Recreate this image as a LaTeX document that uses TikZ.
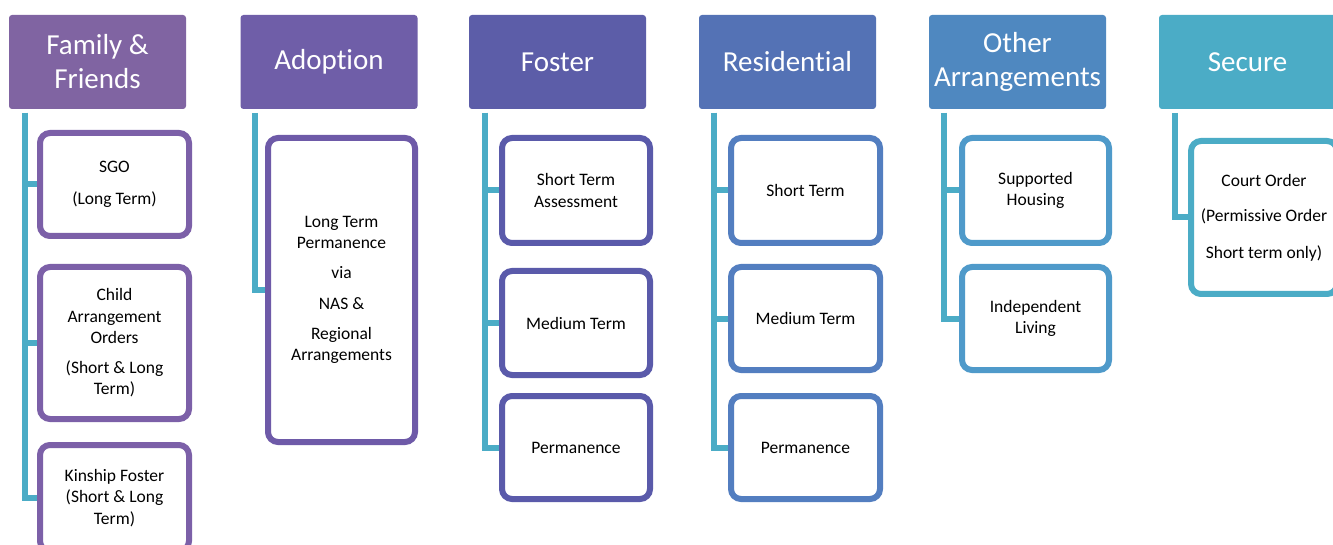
\documentclass[tikz,border=0pt]{standalone}
\usepackage{fontspec}
\setmainfont{Carlito}[Ligatures=NoCommon]
\usetikzlibrary{backgrounds}
\definecolor{hA}{HTML}{8064A2}
\definecolor{hB}{HTML}{6F5EA8}
\definecolor{hC}{HTML}{5C5DA8}
\definecolor{hD}{HTML}{5472B5}
\definecolor{hE}{HTML}{4F88C0}
\definecolor{hF}{HTML}{4BACC6}
\definecolor{kA}{HTML}{7C60A8}
\definecolor{kB}{HTML}{6E5AA8}
\definecolor{kC}{HTML}{5A5AAA}
\definecolor{kD}{HTML}{537EC0}
\definecolor{kE}{HTML}{4F9ACA}
\definecolor{kF}{HTML}{4BACC6}
\definecolor{cline}{HTML}{4BACC6}
\begin{document}
\begin{tikzpicture}[x=1pt,y=-1pt,
  hdr/.style={rectangle, rounded corners=3pt, text=white,
    font=\fontsize{29}{34}\selectfont, align=center, inner sep=0pt,
    minimum width=177pt, minimum height=94pt},
  kid/.style={rectangle, rounded corners=10pt, line width=6pt, fill=white,
    font=\fontsize{17.5}{21.5}\selectfont, align=center, inner sep=0pt},
  conn/.style={draw=cline, line width=6pt}]
\useasboundingbox (0,0) rectangle (1333,545);
% headers
\node[hdr, fill=hA] (h1) at (97.5,62) {Family \&\\Friends};
\node[hdr, fill=hB] (h2) at (329,62) {Adoption};
\node[hdr, fill=hC] (h3) at (557.5,62) {Foster};
\node[hdr, fill=hD] (h4) at (787.5,62) {Residential};
\node[hdr, fill=hE] (h5) at (1017.5,62) {Other\\Arrangements};
\node[hdr, fill=hF] (h6) at (1247.5,62) {Secure};
% family & friends
\node[kid, draw=kA, minimum width=149pt, minimum height=103pt] (a1) at (114.5,184.5) {SGO\\[10pt](Long Term)};
\node[kid, draw=kA, minimum width=149pt, minimum height=152pt] (a2) at (114.5,343) {Child\\Arrangement\\Orders\\[8pt](Short \& Long\\Term)};
\node[kid, draw=kA, minimum width=149pt, minimum height=106pt] (a3) at (114.5,498) {Kinship Foster\\(Short \& Long\\Term)};
% adoption
\node[kid, draw=kB, minimum width=147pt, minimum height=304pt] (b1) at (341.5,290) {Long Term\\Permanence\\[8pt]via\\[10pt]NAS \&\\[8pt]Regional\\Arrangements};
% foster
\node[kid, draw=kC, minimum width=148pt, minimum height=105pt] (c1) at (576,190.5) {Short Term\\Assessment};
\node[kid, draw=kC, minimum width=148pt, minimum height=104pt] (c2) at (576,323) {Medium Term};
\node[kid, draw=kC, minimum width=148pt, minimum height=103pt] (c3) at (576,447.5) {Permanence};
% residential
\node[kid, draw=kD, minimum width=149pt, minimum height=105pt] (d1) at (805.5,190.5) {Short Term};
\node[kid, draw=kD, minimum width=149pt, minimum height=103pt] (d2) at (805.5,318.5) {Medium Term};
\node[kid, draw=kD, minimum width=149pt, minimum height=103pt] (d3) at (805.5,447.5) {Permanence};
% other
\node[kid, draw=kE, minimum width=147pt, minimum height=105pt] (e1) at (1035.5,190.5) {Supported\\Housing};
\node[kid, draw=kE, minimum width=147pt, minimum height=103pt] (e2) at (1035.5,318.5) {Independent\\Living};
% secure
\node[kid, draw=kF, minimum width=146pt, minimum height=153pt] (f1) at (1264,217.5) {Court Order\\[14pt](Permissive Order\\[15pt]Short term only)};
% connectors
\coordinate (t1) at (24.5,113);
\coordinate (t2) at (254.5,113);
\coordinate (t3) at (484.5,113);
\coordinate (t4) at (713.5,113);
\coordinate (t5) at (944,113);
\coordinate (t6) at (1174.5,113);
\begin{scope}[on background layer]
\fill[white] (0,0) rectangle (1333,545);
\draw[conn] (t1) |- (a3.west);
\draw[conn] (t1) |- (a2.west);
\draw[conn] (t1) |- (a1.west);
\draw[conn] (t2) |- (b1.west);
\draw[conn] (t3) |- (c3.west);
\draw[conn] (t3) |- (c2.west);
\draw[conn] (t3) |- (c1.west);
\draw[conn] (t4) |- (d3.west);
\draw[conn] (t4) |- (d2.west);
\draw[conn] (t4) |- (d1.west);
\draw[conn] (t5) |- (e2.west);
\draw[conn] (t5) |- (e1.west);
\draw[conn] (t6) |- (f1.west);
\end{scope}
\end{tikzpicture}
\end{document}
